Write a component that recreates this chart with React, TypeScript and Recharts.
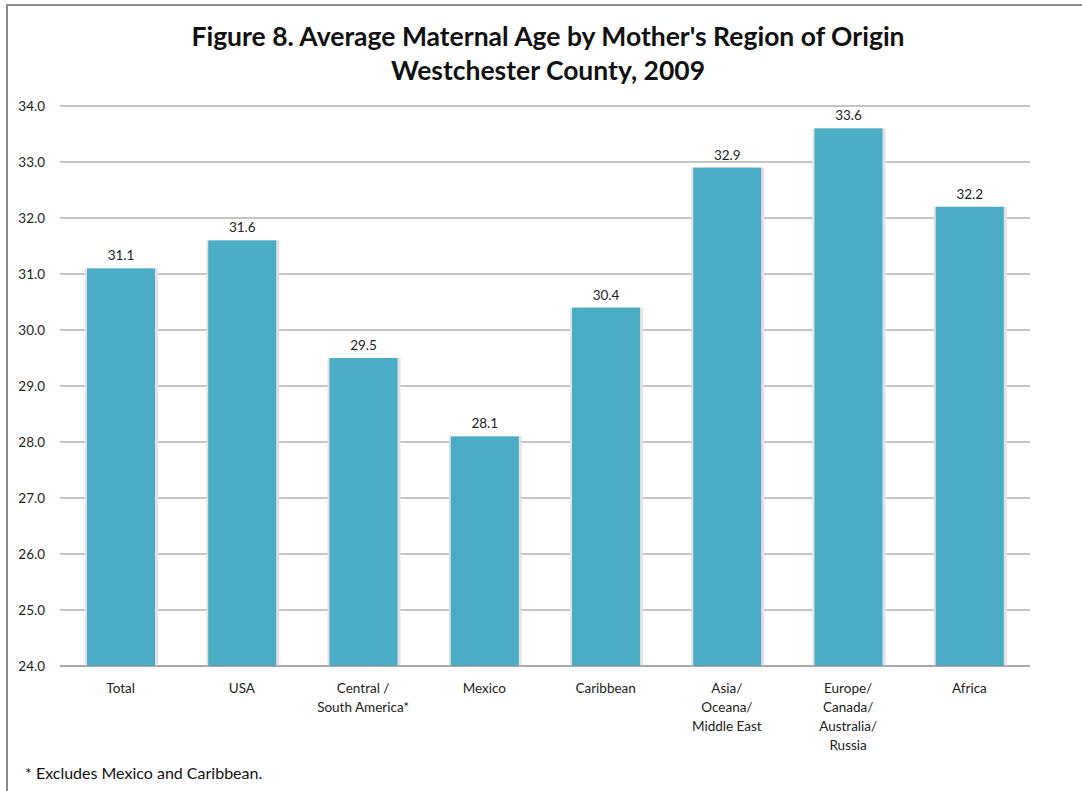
import React from "react";
import { Bar, BarChart, CartesianGrid, LabelList, XAxis, YAxis } from "recharts";

const regions = [
  "Total",
  "USA",
  "Central /\nSouth America*",
  "Mexico",
  "Caribbean",
  "Asia/\nOceana/\nMiddle East",
  "Europe/\nCanada/\nAustralia/\nRussia",
  "Africa",
];
const avgAge = [31.1, 31.6, 29.5, 28.1, 30.4, 32.9, 33.6, 32.2];
const yTicks = [24, 25, 26, 27, 28, 29, 30, 31, 32, 33, 34];

const data = regions.map((name, i) => ({ name, age: avgAge[i] }));

const font = "Lato, 'Open Sans', sans-serif";

const RegionTick = (props: any) => {
  const { x, y, payload } = props;
  const lines = String(payload.value).split("\n");
  return (
    <text x={x} y={y} textAnchor="middle" fill="#222" fontSize={13.5} fontFamily={font}>
      {lines.map((l, i) => (
        <tspan key={i} x={x} dy={i === 0 ? 19 : 19}>
          {l}
        </tspan>
      ))}
    </text>
  );
};

const ShadowBar = (props: any) => {
  const { x, y, width, height, fill } = props;
  return (
    <g>
      <rect x={x - 2} y={y} width={width + 5} height={height} fill="#e2e2e2" />
      <rect x={x} y={y} width={width} height={height} fill={fill} />
    </g>
  );
};

export default function App() {
  return (
    <div style={{ position: "absolute", left: 0, top: 0, width: 1082, height: 791, overflow: "hidden", background: "#fff" }}>
      <div style={{ position: "absolute", left: 6, top: 4, width: 1100, height: 820, border: "2px solid #8c8c8c" }} />
      <div
        style={{
          position: "absolute",
          left: 0,
          top: 19,
          width: 1096,
          textAlign: "center",
          fontFamily: font,
          fontWeight: 700,
          fontSize: 26.5,
          lineHeight: "34px",
          color: "#111",
        }}
      >
        Figure 8. Average Maternal Age by Mother's Region of Origin
        <br />
        Westchester County, 2009
      </div>
      <div style={{ position: "absolute", left: 0, top: 0 }}>
        <BarChart
          width={1082}
          height={791}
          data={data}
          margin={{ top: 106, right: 52, bottom: 0, left: 0 }}
        >
          <CartesianGrid vertical={false} stroke="#8c8c8c" strokeWidth={1} />
          <XAxis
            dataKey="name"
            tick={<RegionTick />}
            tickLine={false}
            axisLine={{ stroke: "#8c8c8c" }}
            interval={0}
            height={125}
          />
          <YAxis
            domain={[24, 34]}
            ticks={yTicks}
            tickFormatter={(v) => v.toFixed(1)}
            tick={{ fill: "#222", fontSize: 13.5, fontFamily: font }}
            tickLine={false}
            tickMargin={9}
            axisLine={false}
            width={60}
            allowDataOverflow
          />
          <Bar dataKey="age" fill="#4BACC6" barSize={68} shape={<ShadowBar />} isAnimationActive={false}>
            <LabelList
              dataKey="age"
              position="top"
              offset={8}
              formatter={(v: any) => Number(v).toFixed(1)}
              style={{ fill: "#222", fontSize: 13.5, fontFamily: font }}
            />
          </Bar>
        </BarChart>
      </div>
      <div style={{ position: "absolute", left: 25, top: 763, fontFamily: font, fontSize: 16, color: "#111" }}>
        * Excludes Mexico and Caribbean.
      </div>
    </div>
  );
}
